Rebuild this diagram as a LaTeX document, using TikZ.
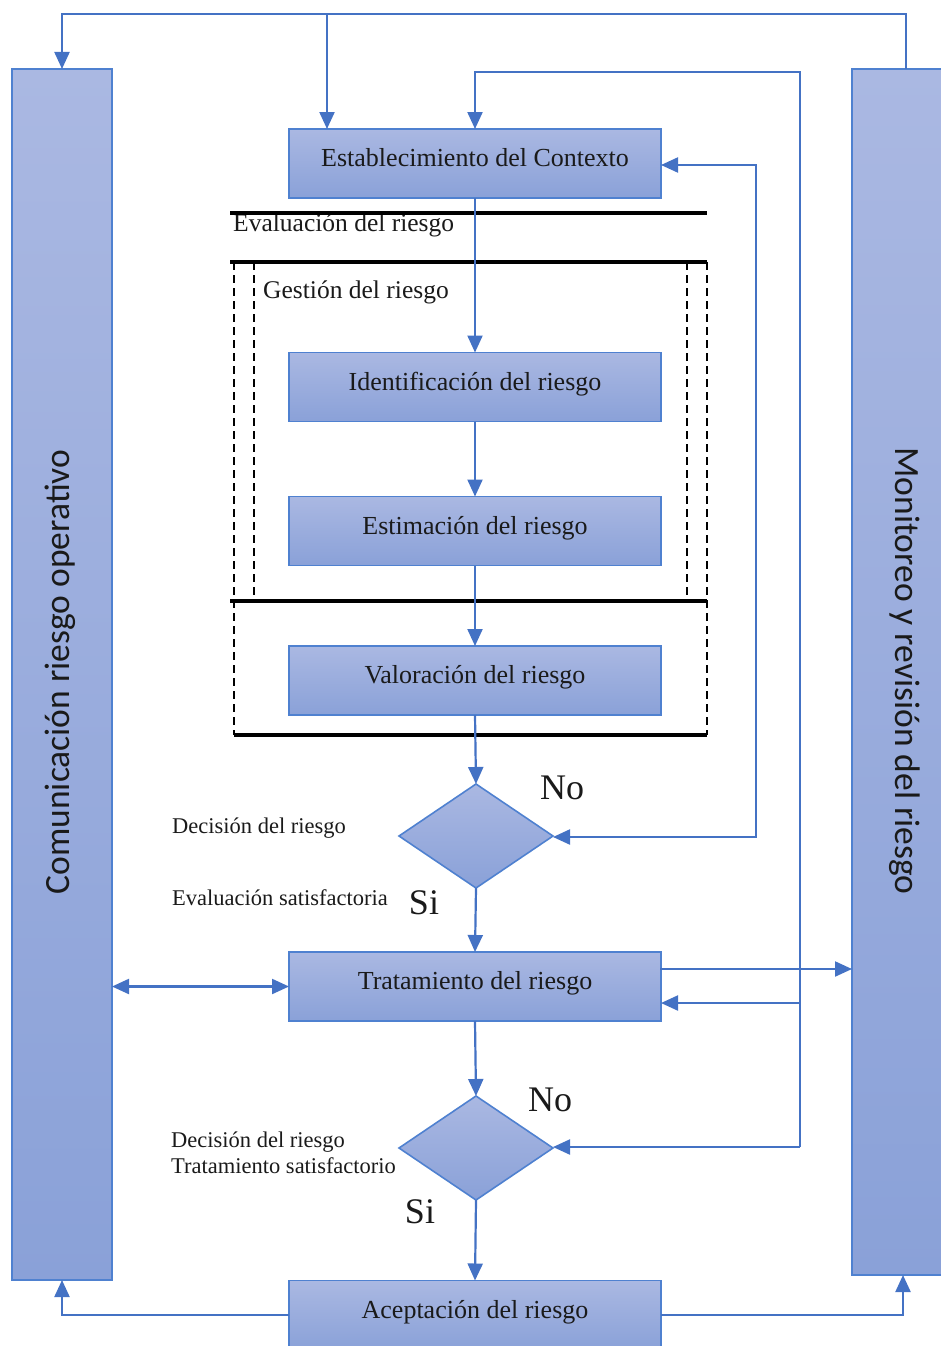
\documentclass[tikz,border=0pt]{standalone}
\usepackage{fontspec}
\setmainfont{Liberation Serif}
\newfontfamily\sidefont{Carlito}
\usetikzlibrary{shapes.geometric,arrows.meta}
\definecolor{boxtop}{HTML}{AAB8E2}
\definecolor{boxbot}{HTML}{8AA1D8}
\definecolor{boxline}{HTML}{4F81D0}
\definecolor{conncol}{HTML}{4472C4}
\definecolor{txtcol}{HTML}{1A1A1A}
\tikzset{
  stepbox/.style={draw=boxline, line width=1.6pt, top color=boxtop, bottom color=boxbot,
    minimum width=372pt, minimum height=69pt, inner sep=0pt, outer sep=0pt,
    text height=18pt, text depth=12pt,
    font=\fontsize{26}{26}\selectfont, text=txtcol},
  sidebar/.style={draw=boxline, line width=1.6pt, top color=boxtop, bottom color=boxbot,
    inner sep=0pt, outer sep=0pt},
  decbox/.style={draw=boxline, line width=1.6pt, top color=boxtop, bottom color=boxbot,
    diamond, minimum width=154pt, minimum height=104pt, inner sep=0pt, outer sep=0pt},
  sidetext/.style={font=\sidefont\fontsize{35.5}{35.5}\selectfont, text=txtcol},
  lbl/.style={font=\fontsize{22.5}{22.5}\selectfont, text=txtcol, inner sep=0pt},
  frlbl/.style={font=\fontsize{25.5}{25.5}\selectfont, text=txtcol, inner sep=0pt},
  yn/.style={font=\fontsize{36}{36}\selectfont, text=txtcol, inner sep=0pt},
  conn/.style={draw=conncol, line width=2.2pt},
  arr/.style={conn, -{Triangle[width=15pt,length=17pt]}},
  darr/.style={conn, {Triangle[width=15pt,length=17pt]}-{Triangle[width=15pt,length=17pt]}},
  blk/.style={draw=black, line width=3.2pt},
  dsh/.style={draw=black, line width=1.6pt, dash pattern=on 8pt off 5pt},
}
\begin{document}
\begin{tikzpicture}[x=1pt,y=1pt]
\useasboundingbox (0,0) rectangle (940,-1346);
% side bars
\node[sidebar, minimum width=100pt, minimum height=1211pt] (lbar) at (62,-674.5) {};
\node[sidetext, rotate=90] (lbartext) at (60,-672) {Comunicación riesgo operativo};
\node[sidebar, minimum width=106pt, minimum height=1206pt] (rbar) at (905,-672) {};
\node[sidetext, rotate=-90] (rbartext) at (905,-671) {Monitoreo y revisión del riesgo};
% frames
\coordinate (f1l) at (230,-213); \coordinate (f1r) at (707,-213);
\coordinate (f2l) at (230,-262); \coordinate (f2r) at (707,-262);
\coordinate (f3l) at (230,-601); \coordinate (f3r) at (707,-601);
\coordinate (f4l) at (234,-735); \coordinate (f4r) at (707,-735);
\draw[dsh] (234,-262) coordinate (da1) -- (234,-735) coordinate (da2);
\draw[dsh] (707,-262) coordinate (db1) -- (707,-735) coordinate (db2);
\draw[dsh] (254,-262) coordinate (dc1) -- (254,-600) coordinate (dc2);
\draw[dsh] (687,-262) coordinate (dd1) -- (687,-600) coordinate (dd2);
\node[frlbl, anchor=west] (evl) at (233,-225) {Evaluación del riesgo};
\draw[blk] (f1l) -- (f1r);
\draw[blk] (f2l) -- (f2r);
\draw[blk] (f3l) -- (f3r);
\draw[blk] (f4l) -- (f4r);
\node[frlbl, anchor=west] (gest) at (263,-292) {Gestión del riesgo};
% boxes
\node[stepbox] (est) at (475,-163.5) {Establecimiento del Contexto};
\node[stepbox] (ident) at (475,-387) {Identificación del riesgo};
\node[stepbox] (estim) at (475,-531) {Estimación del riesgo};
\node[stepbox] (valor) at (475,-680.5) {Valoración del riesgo};
\node[decbox] (dec1) at (476,-836) {};
\node[stepbox] (trat) at (475,-986.5) {Tratamiento del riesgo};
\node[decbox] (dec2) at (476,-1148) {};
\node[stepbox] (acept) at (475,-1315) {Aceptación del riesgo};
% labels
\node[yn] (no1) at (562,-788) {No};
\node[yn] (si1) at (424,-903) {Si};
\node[yn] (no2) at (550,-1100) {No};
\node[yn] (si2) at (420,-1212) {Si};
\node[lbl, anchor=west] (d1a) at (172,-828) {Decisión del riesgo};
\node[lbl, anchor=west] (d1b) at (172,-898) {Evaluación satisfactoria};
\node[lbl, anchor=west, align=left] (d2) at (171,-1153) {Decisión del riesgo\\[3pt]Tratamiento satisfactorio};
% main chain
\draw[arr] (est.south) -- (ident.north);
\draw[arr] (ident.south) -- (estim.north);
\draw[arr] (estim.south) -- (valor.north);
\draw[arr] (valor.south) -- (dec1.north);
\draw[arr] (dec1.south) -- (trat.north);
\draw[arr] (trat.south) -- (dec2.north);
\draw[arr] (dec2.south) -- (acept.north);
% top loop
\coordinate (topR) at (906,-14);
\coordinate (topL) at (62,-14);
\coordinate (topM) at (327,-14);
\draw[arr] ([xshift=1pt]rbar.north) -- (topR) -- (topL) -- (lbar.north);
\draw[arr] (topM) -- (topM |- est.north);
% x=800 loop
\coordinate (lp1) at (800,-72);
\coordinate (lp2) at (800,-1147);
\coordinate (lp3) at (800,-1003);
\coordinate (lp4) at (475,-72);
\draw[arr] (lp2) -- (lp2 -| dec2.east);
\draw[arr] (lp2) -- (lp1) -- (lp4) -- (est.north);
\draw[arr] (lp3) -- (lp3 -| trat.east);
% x=756 loop
\coordinate (r1) at (756,-165);
\coordinate (r2) at (756,-837);
\draw[darr] (r1 -| est.east) -- (r1) -- (r2) -- (r2 -| dec1.east);
% treatment links
\coordinate (t1) at (660,-969);
\draw[arr] (t1) -- (t1 -| rbar.west);
\draw[darr] (lbar.east |- trat.west) -- (trat.west);
% acceptance links
\draw[arr] (acept.west) -| (lbar.south);
\draw[arr] (acept.east) -| ([xshift=-2pt]rbar.south);
\end{tikzpicture}
\end{document}
